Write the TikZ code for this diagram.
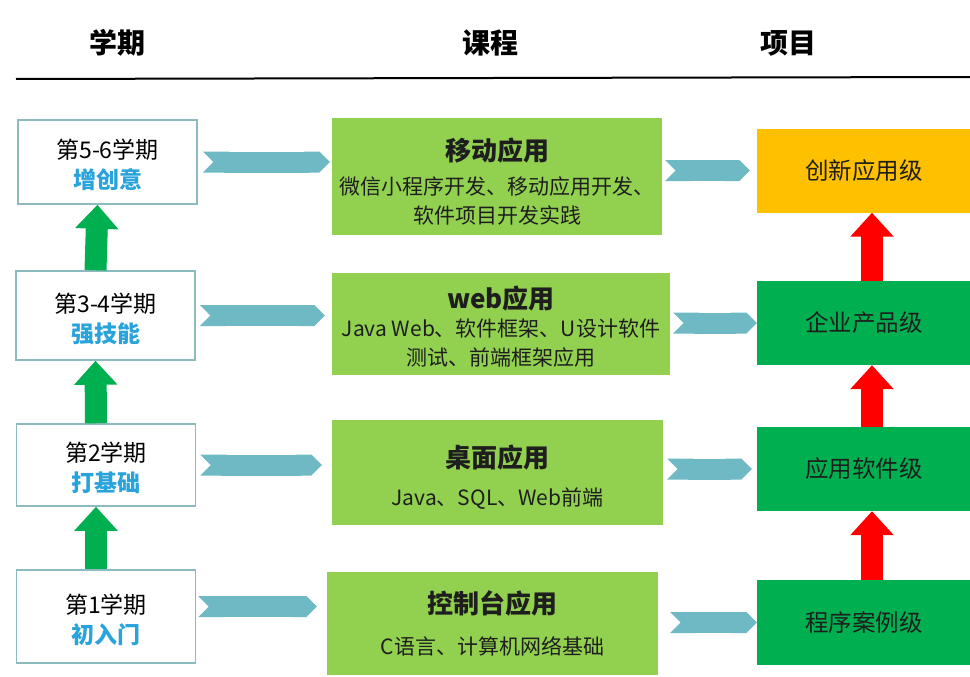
\documentclass[tikz,border=0pt]{standalone}
\usepackage{fontspec}
\setmainfont{Noto Sans CJK SC}
\usetikzlibrary{arrows.meta, positioning}
\definecolor{termline}{RGB}{140,186,190}
\definecolor{termblue}{RGB}{41,163,219}
\definecolor{coursegreen}{RGB}{146,208,80}
\definecolor{levelgreen}{RGB}{0,176,80}
\definecolor{levelorange}{RGB}{255,192,0}
\definecolor{chevteal}{RGB}{110,185,195}
\definecolor{textdark}{RGB}{30,30,30}
\tikzstyle{head} = [font=\fontsize{28}{30}\selectfont\bfseries]
\tikzstyle{term} = [rectangle, draw=termline, line width=1.5pt, fill=white, minimum width=179pt, align=center, font=\fontsize{23}{30}\selectfont]
\tikzstyle{course} = [rectangle, fill=coursegreen, minimum height=103pt, align=center, text=textdark, font=\fontsize{21}{29}\selectfont]
\tikzstyle{level} = [rectangle, fill=levelgreen, minimum width=214pt, minimum height=84pt, text=textdark, font=\fontsize{23.5}{28}\selectfont]
\tikzstyle{chev} = [line width=21pt, draw=chevteal, {Triangle Cap[reversed]}-{Triangle Cap}]
\tikzstyle{stepup} = [line width=22pt, -{Triangle[width=42pt,length=24pt]}]
\newcommand{\tagline}[1]{{\color{termblue}\bfseries #1}}
\newcommand{\ctitle}[2]{{\rule{0pt}{#1}\fontsize{26}{30}\selectfont\bfseries #2}}

\begin{document}
\begin{tikzpicture}[x=1pt, y=-1pt]
\useasboundingbox (0,0) rectangle (970,677);

% column heads
\node (hterm) [head] at (117,43) {学期};
\node (hcourse) [head] at (490,43) {课程};
\node (hproject) [head] at (788,43) {项目};
\draw [line width=2pt] (16,79) -- (970,77);

% semesters
\node (t1) [term, minimum height=84pt] at (107.5,162) {\rule{0pt}{26pt}第5-6学期\\\tagline{增创意}};
\node (t2) [term, minimum height=89pt] at (105.5,315.5) {\rule{0pt}{26pt}第3-4学期\\\tagline{强技能}};
\node (t3) [term, minimum height=82pt] at (106,465) {\rule{0pt}{26pt}第2学期\\\tagline{打基础}};
\node (t4) [term, minimum height=93pt] at (106,616.5) {\rule{0pt}{26pt}第1学期\\\tagline{初入门}};

% courses
\node (c1) [course, minimum width=330pt, minimum height=117pt] at (497,176.5) {\ctitle{32pt}{移动应用}\\[5pt]微信小程序开发、移动应用开发、\\软件项目开发实践};
\node (c2) [course, minimum width=338pt, minimum height=102pt] at (501,324) {\ctitle{28pt}{web应用}\\[-1pt]Java Web、软件框架、U设计软件\\测试、前端框架应用};
\node (c3) [course, minimum width=331pt, minimum height=105pt] at (497.5,472.5) {\ctitle{32pt}{桌面应用}\\[9pt]Java、SQL、Web前端};
\node (c4) [course, minimum width=331pt] at (492.5,623.5) {\ctitle{20pt}{控制台应用}\\[12pt]C语言、计算机网络基础};

% project levels
\node (p1) [level, fill=levelorange] at (864,170.5) {创新应用级};
\node (p2) [level] at (864,323) {企业产品级};
\node (p3) [level] at (864,469) {应用软件级};
\node (p4) [level, minimum height=85pt] at (864,622.5) {程序案例级};

% semester to course
\draw [chev, shorten <=5pt, shorten >=2pt] (t1.east) -- (t1.east -| c1.west);
\draw [chev, shorten <=4pt, shorten >=7pt] (t2.east) -- (t2.east -| c2.west);
\draw [chev, shorten <=4pt, shorten >=10pt] (t3.east) -- (t3.east -| c3.west);
\draw [chev, shorten <=2pt, shorten >=10pt] ([yshift=10pt]t4.east) -- ([yshift=10pt]t4.east -| c4.west);

% course to level
\draw [chev, shorten <=3pt, shorten >=7pt] (c1.east |- p1.west) -- (p1.west);
\draw [chev, shorten <=3pt] (c2.east |- p2.west) -- (p2.west);
\draw [chev, shorten <=4pt, shorten >=5pt] (c3.east |- p3.west) -- (p3.west);
\draw [chev, shorten <=12pt] (c4.east |- p4.west) -- (p4.west);

% upward steps
\draw [stepup, draw=levelgreen] ([xshift=-10pt]t2.north) -- ([xshift=-10pt]t1.south);
\draw [stepup, draw=levelgreen] ([xshift=-10pt]t3.north) -- ([xshift=-10pt]t2.south);
\draw [stepup, draw=levelgreen] ([xshift=-10pt]t4.north) -- ([xshift=-10pt]t3.south);
\draw [stepup, draw=red] ([xshift=8pt]p2.north) -- ([xshift=8pt]p1.south);
\draw [stepup, draw=red] ([xshift=8pt]p3.north) -- ([xshift=8pt]p2.south);
\draw [stepup, draw=red] ([xshift=8pt]p4.north) -- ([xshift=8pt]p3.south);
\end{tikzpicture}
\end{document}
